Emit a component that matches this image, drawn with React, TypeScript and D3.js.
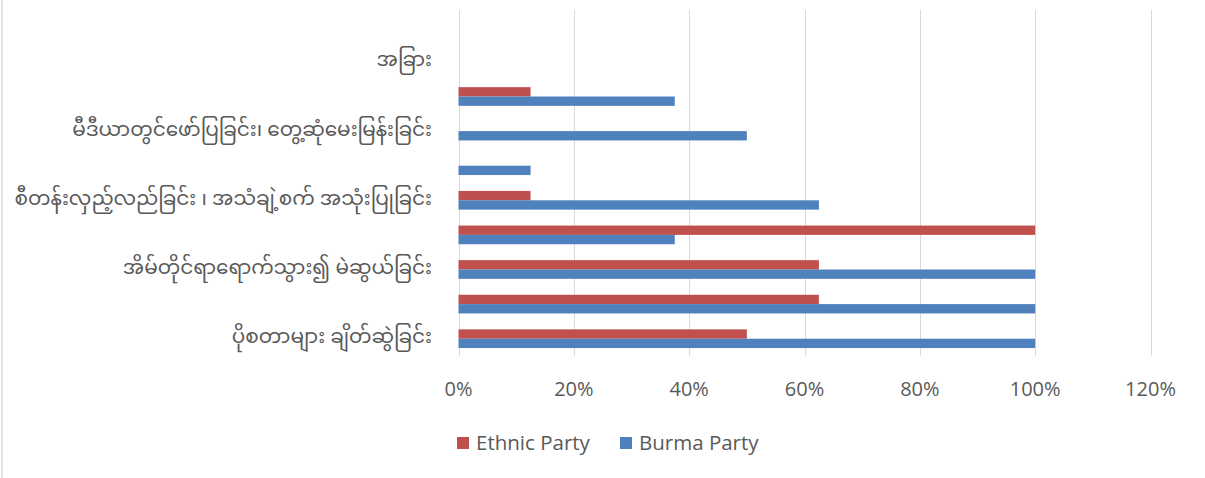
import React from "react";
import * as d3 from "d3";

// categories from bottom to top (empty names = labels skipped by the chart)
const categories: string[] = [
  "ပိုစတာများ ချိတ်ဆွဲခြင်း",
  "",
  "အိမ်တိုင်ရာရောက်သွား၍ မဲဆွယ်ခြင်း",
  "",
  "စီတန်းလှည့်လည်ခြင်း ၊ အသံချဲ့စက် အသုံးပြုခြင်း",
  "",
  "မီဒီယာတွင်ဖော်ပြခြင်း၊ တွေ့ဆုံမေးမြန်းခြင်း",
  "",
  "အခြား",
  "",
];
const ethnicParty: number[] = [0.5, 0.625, 0.625, 1.0, 0.125, 0, 0, 0.125, 0, 0];
const burmaParty: number[] = [1.0, 1.0, 1.0, 0.375, 0.625, 0.125, 0.5, 0.375, 0, 0];
const xTicks: number[] = [0, 0.2, 0.4, 0.6, 0.8, 1.0, 1.2];
const seriesNames: string[] = ["Ethnic Party", "Burma Party"];
const seriesColors: string[] = ["#C0504D", "#4F81BD"];

const W = 1205;
const H = 478;
const plotLeft = 458.5;
const plotRight = 1150.5;
const plotTop = 10;
const plotBottom = 356;
const textColor = "#595959";
const gridColor = "#D9D9D9";
const latin = "'Open Sans', 'Liberation Sans', sans-serif";
const myanmar = "'Noto Sans Myanmar', 'Myanmar Text', 'Padauk', 'Noto Sans', sans-serif";

export default function App() {
  const x = d3.scaleLinear().domain([0, 1.2]).range([plotLeft, plotRight]);
  const idx = categories.map((_, i) => String(i));
  const y = d3
    .scaleBand<string>()
    .domain(idx)
    .range([plotBottom, plotTop])
    .paddingInner(0.46)
    .paddingOuter(0.23);
  const inner = d3.scaleBand<string>().domain(["e", "b"]).range([0, y.bandwidth()]);

  return (
    <svg
      width={W}
      height={H}
      style={{ position: "absolute", left: 0, top: 0, display: "block", background: "#fff" }}
    >
      <rect x={0} y={0} width={W} height={H} fill="#fff" />
      <line x1={2} x2={2} y1={0} y2={H} stroke={gridColor} strokeWidth={1.5} />
      {xTicks.map((t) => (
        <line
          key={"g" + t}
          x1={Math.round(x(t)) + 0.5}
          x2={Math.round(x(t)) + 0.5}
          y1={plotTop}
          y2={plotBottom}
          stroke={gridColor}
          strokeWidth={1}
        />
      ))}
      {categories.map((c, i) => {
        const y0 = y(String(i)) as number;
        return (
          <g key={"b" + i}>
            {ethnicParty[i] > 0 && (
              <rect
                x={x(0)}
                y={y0 + (inner("e") as number)}
                width={x(ethnicParty[i]) - x(0)}
                height={inner.bandwidth()}
                fill={seriesColors[0]}
              />
            )}
            {burmaParty[i] > 0 && (
              <rect
                x={x(0)}
                y={y0 + (inner("b") as number)}
                width={x(burmaParty[i]) - x(0)}
                height={inner.bandwidth()}
                fill={seriesColors[1]}
              />
            )}
          </g>
        );
      })}
      {categories.map((c, i) =>
        c ? (
          <text
            key={"l" + i}
            x={432}
            y={(y(String(i)) as number) + y.bandwidth() / 2}
            textAnchor="end"
            dominantBaseline="central"
            fontFamily={myanmar}
            fontSize={20}
            fill={textColor}
          >
            {c}
          </text>
        ) : null
      )}
      {xTicks.map((t) => (
        <text
          key={"t" + t}
          x={x(t)}
          y={396}
          textAnchor="middle"
          fontFamily={latin}
          fontSize={20}
          fill={textColor}
        >
          {d3.format(".0%")(t)}
        </text>
      ))}
      {seriesNames.map((s, i) => {
        const lx = [457, 620][i];
        return (
          <g key={"lg" + i}>
            <rect x={lx} y={437} width={12} height={12} fill={seriesColors[i]} />
            <text x={lx + 19} y={449.5} fontFamily={latin} fontSize={20.5} fill={textColor}>
              {s}
            </text>
          </g>
        );
      })}
    </svg>
  );
}
